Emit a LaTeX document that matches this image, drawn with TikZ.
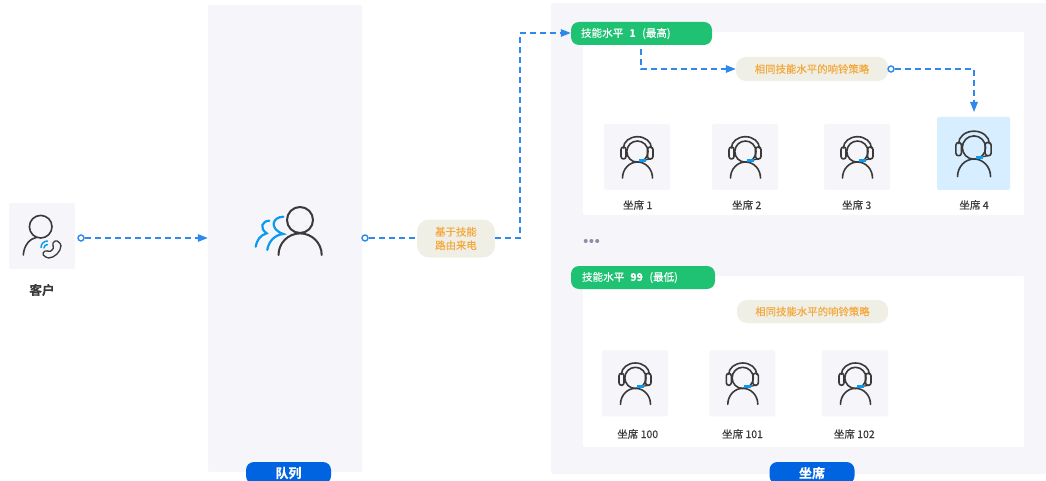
\documentclass[tikz,border=0pt]{standalone}
\usepackage{fontspec}
\setmainfont[FakeBold=0.25,BoldFont={Noto Sans CJK SC Bold}]{Noto Sans CJK SC}
\usetikzlibrary{arrows.meta}
\definecolor{panelbg}{HTML}{F5F5FA}
\definecolor{chipbg}{HTML}{EFEFE6}
\definecolor{chiptxt}{HTML}{F5A83A}
\definecolor{tagbg}{HTML}{1FC173}
\definecolor{pillbg}{HTML}{0064E0}
\definecolor{flow}{HTML}{2F88EE}
\definecolor{inkc}{HTML}{3A3A3A}
\definecolor{accent}{HTML}{0A9BF0}
\definecolor{hilite}{HTML}{D6EEFF}
\definecolor{dotc}{HTML}{8A90A3}
\tikzset{
  panel/.style={fill=panelbg,draw=none,rounded corners=1.5pt,inner sep=0pt},
  whitebox/.style={fill=white,draw=none,rounded corners=1.5pt,inner sep=0pt},
  iconbox/.style={panel,minimum width=66pt,minimum height=66pt},
  hibox/.style={fill=hilite,draw=none,rounded corners=1.5pt,inner sep=0pt,minimum width=73pt,minimum height=73pt},
  chip/.style={fill=chipbg,draw=none,rounded corners=10pt,inner sep=0pt,text=chiptxt,font=\fontsize{10.4pt}{13.5pt}\selectfont,align=center},
  tag/.style={fill=tagbg,draw=none,rounded corners=8pt,inner sep=0pt,minimum height=23pt,text=white,font=\fontsize{10.6pt}{13pt}\selectfont},
  pill/.style={fill=pillbg,draw=none,rounded corners=8pt,inner sep=0pt,minimum width=85pt,minimum height=22pt,text=white,font=\fontsize{13pt}{15pt}\selectfont\bfseries},
  lbl/.style={inner sep=0pt,text=inkc,font=\fontsize{10.5pt}{12pt}\selectfont},
  flowline/.style={draw=flow,line width=1.5pt,dash pattern=on 6pt off 4pt},
  flowarrow/.style={flowline,-{Triangle[length=10pt,width=7.5pt,fill=flow]}},
  startdot/.style={circle,draw=flow,fill=white,line width=1.4pt,inner sep=0pt,minimum size=6pt},
  icon/.style={draw=inkc,line width=1.6pt,line cap=round,line join=round,fill=none},
  iconblue/.style={draw=accent,line width=2.2pt,line cap=round,fill=none},
  agent/.pic={
    \draw[icon] (0.4,-5.4) circle[radius=10.6];
    \draw[icon] (-13.6,-9) arc[start angle=180,end angle=360,x radius=14,y radius=11.3];
    \draw[icon,rounded corners=2.5] (-16,-10) rectangle (-11,2);
    \draw[icon,rounded corners=2.5] (10.5,-10) rectangle (16,2);
    \draw[icon] (-14.5,21) arc[start angle=180,end angle=360,x radius=15,y radius=16];
    \draw[icon,line width=1.2pt] (8,3) -- (13.5,2);
    \fill[accent] (2,2) rectangle (8.5,4.6);
  }
}
\begin{document}
\begin{tikzpicture}[x=1pt,y=-1pt]
\useasboundingbox (0,0) rectangle (1046,481);
\clip (0,0) rectangle (1046,481);

% panels
\node[panel,minimum width=154pt,minimum height=467pt] (queue) at (285,238.5) {};
\node[panel,minimum width=495pt,minimum height=471pt] (seats) at (798.5,238.5) {};
\node[whitebox,minimum width=441pt,minimum height=183pt] (lvlA) at (803.5,123.5) {};
\node[whitebox,minimum width=441pt,minimum height=171pt] (lvlB) at (803.5,361.5) {};

% pills
\node[pill] (pillQ) at (288.5,473) {队列};
\node[pill] (pillS) at (812,473) {坐席};

% customer
\node[iconbox] (cust) at (42,236) {};
\node[inner sep=0pt,text=inkc,font=\fontsize{12.6pt}{14pt}\selectfont\bfseries] (custL) at (42,290) {客户};
\draw[icon] (40.7,226.7) circle[radius=11.3];
\draw[icon] (23.3,255) .. controls (24,245) and (30,238.5) .. (36.7,237.3);
\draw[iconblue,line width=1.5pt] (44,248) arc[start angle=180,end angle=270,radius=3.5];
\draw[iconblue,line width=1.5pt] (41,247.5) arc[start angle=180,end angle=270,radius=6.5];
\draw[icon,line width=1.3pt,rounded corners=1.6pt] (56,240) -- (61,244) .. controls (61,252) and (54,258) .. (47,258) -- (42,254) -- (46,250) -- (49,252) .. controls (51,251) and (53,249) .. (54,247) -- (52,244) -- cycle;

% queue icon
\draw[icon,line width=2pt] (300,220) circle[radius=13];
\draw[icon,line width=2pt] (278.5,255) arc[start angle=180,end angle=360,radius=21.6];
\draw[iconblue] (269.3,220.7) .. controls (262,221) and (259,228) .. (266.7,233.3) .. controls (260,235) and (256.5,241) .. (255.7,246.7);
\draw[iconblue] (283.3,216.7) .. controls (272,217) and (269,229) .. (283.3,234) .. controls (274,235) and (268.5,242) .. (267.3,250);

% tags
\node[tag,minimum width=141pt,text width=121pt,align=left] (tagA) at (641.5,33.5) {技能水平\hspace{6pt}\textbf{1}\hspace{3pt} (最高)};
\node[tag,minimum width=144pt,text width=122pt,align=left] (tagB) at (643,277.5) {技能水平\hspace{6pt}\textbf{99}\hspace{3pt} (最低)};

% chips
\node[chip,minimum width=152pt,minimum height=24pt] (chipA) at (812,69) {相同技能水平的响铃策略};
\node[chip,minimum width=151pt,minimum height=23pt] (chipB) at (812.5,311.5) {相同技能水平的响铃策略};
\node[chip,minimum width=78pt,minimum height=38pt,rounded corners=12pt] (route) at (456,238.5) {基于技能\\路由来电};

% agents, level 1
\node[iconbox] (a1) at (637,157) {};
\node[iconbox] (a2) at (745,157) {};
\node[iconbox] (a3) at (857,157) {};
\node[hibox] (a4) at (973.5,153.5) {};
\pic at (a1) {agent};
\pic at (a2) {agent};
\pic at (a3) {agent};
\pic[scale=1.1] at (a4) {agent};
\node[lbl] (l1) at (637.7,205) {坐席 1};
\node[lbl] (l2) at (746.7,205) {坐席 2};
\node[lbl] (l3) at (856.7,205) {坐席 3};
\node[lbl] (l4) at (974,205) {坐席 4};

% ellipsis
\fill[dotc] (585.7,241) circle[radius=2] (591.4,241) circle[radius=2] (597.2,241) circle[radius=2];

% agents, level 99
\node[iconbox] (b1) at (635,383.3) {};
\node[iconbox] (b2) at (742.3,383.3) {};
\node[iconbox] (b3) at (855,383.3) {};
\pic at (b1) {agent};
\pic at (b2) {agent};
\pic at (b3) {agent};
\node[lbl] (m1) at (637.7,434) {坐席 100};
\node[lbl] (m2) at (742.5,434) {坐席 101};
\node[lbl] (m3) at (854.3,434) {坐席 102};

% connectors
\node[startdot] (s1) at (81,238) {};
\node[startdot] (s2) at (365,238) {};
\node[startdot] (s3) at (891,69) {};
\coordinate (e1) at (520,238);
\coordinate (e2) at (520,33);
\coordinate (e3) at (641,49);
\coordinate (e4) at (641,69);
\coordinate (e5) at (974,69);
\coordinate (e6) at (974,112);
\draw[flowarrow] (s1) -- (s1 -| queue.west);
\draw[flowline] (s2) -- (s2 -| route.west);
\draw[flowarrow] (route.east |- e1) -- (e1) -- (e2) -- (e2 -| tagA.west);
\draw[flowarrow] (e3) -- (e4) -- (chipA.west);
\draw[flowarrow] (s3) -- (e5) -- (e6);
\end{tikzpicture}
\end{document}
